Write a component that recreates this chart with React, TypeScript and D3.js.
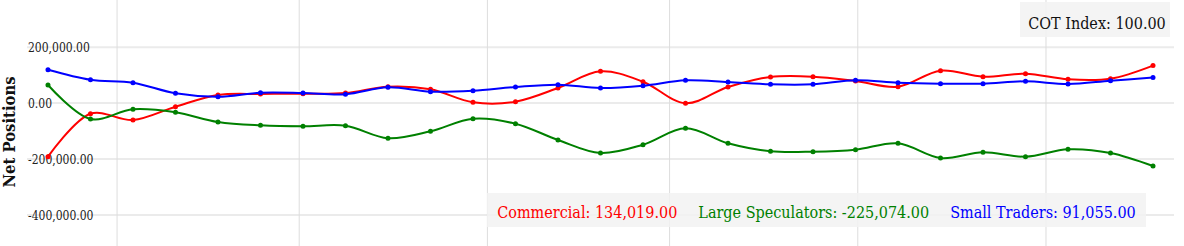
import React from "react";
import * as d3 from "d3";

const dates = [
  "2018-03-20", "2018-03-27", "2018-04-03", "2018-04-10", "2018-04-17", "2018-04-24",
  "2018-05-01", "2018-05-08", "2018-05-15", "2018-05-22", "2018-05-29", "2018-06-05",
  "2018-06-12", "2018-06-19", "2018-06-26", "2018-07-03", "2018-07-10", "2018-07-17",
  "2018-07-24", "2018-07-31", "2018-08-07", "2018-08-14", "2018-08-21", "2018-08-28",
  "2018-09-04", "2018-09-11", "2018-09-18",
];

const commercial = [
  -191600, -37900, -60400, -12900, 29000, 32500, 33600, 36100, 58600, 49300, 2900, 5000,
  54000, 113700, 76500, -700, 57600, 93300, 94400, 79000, 58600, 115800, 94400, 105100,
  85100, 87200, 134019,
];

const largeSpeculators = [
  64700, -56800, -22200, -32900, -67600, -79400, -82900, -80800, -125800, -100800, -55800,
  -73600, -131900, -178400, -148700, -90100, -143700, -172300, -173700, -166600, -143700,
  -196300, -175900, -191600, -165200, -178400, -225074,
];

const smallTraders = [
  119400, 83700, 72900, 35000, 22900, 37200, 36100, 31500, 56500, 40800, 44300, 57600,
  65800, 54000, 62200, 81500, 75400, 67200, 67200, 81500, 72900, 69400, 69400, 77900,
  68300, 80100, 91055,
];

const yTicks = [-400000, -200000, 0, 200000];
const cotIndex = 100;
const seriesNames = ["Commercial", "Large Speculators", "Small Traders"];
const seriesColors = ["#ff0000", "#008000", "#0000ff"];

const W = 1184;
const H = 246;
const FONT = "'DejaVu Serif Condensed', 'DejaVu Serif', serif";

export default function App() {
  const parse = d3.timeParse("%Y-%m-%d");
  const times = dates.map((d) => d3.timeHour.offset(parse(d) as Date, 15));
  const x = d3
    .scaleTime()
    .domain([d3.timeHour.offset(times[0], -83), d3.timeHour.offset(times[times.length - 1], 83)])
    .range([27, 1174]);
  const y = d3.scaleLinear().domain([-510800, 368500]).range([H, 0]);

  const series = [commercial, largeSpeculators, smallTraders];
  const line = d3
    .line<number>()
    .x((_, i) => x(times[i]))
    .y((v) => y(v))
    .curve(d3.curveCatmullRom.alpha(0.5));

  const months = d3.timeMonth.range(x.domain()[0], x.domain()[1]);
  const f2 = d3.format(",.2f");
  const fmt = (v: number) => f2(v).replace("\u2212", "-");
  const last = series.map((s) => s[s.length - 1]);

  return (
    <svg
      width={W}
      height={H}
      style={{ position: "absolute", left: 0, top: 0, background: "#fff" }}
      fontFamily={FONT}
    >
      {yTicks.map((t) => (
        <line key={"h" + t} x1={27} x2={1174} y1={y(t)} y2={y(t)} stroke="#ebebeb" strokeWidth={2} />
      ))}
      {months.map((m) => (
        <line key={"v" + m.getTime()} x1={x(m)} x2={x(m)} y1={0} y2={H} stroke="#dddddd" strokeWidth={1} />
      ))}
      {yTicks.map((t) => (
        <text key={"t" + t} x={28} y={y(t) + 4.5} fontSize={12} fill="#222">
          {fmt(t)}
        </text>
      ))}
      <text
        transform={`translate(15,132) rotate(-90)`}
        textAnchor="middle"
        fontSize={16.5}
        fontWeight="bold"
        fill="#111"
      >
        Net Positions
      </text>
      {series.map((s, k) => (
        <g key={"s" + k}>
          <path d={line(s) || ""} fill="none" stroke={seriesColors[k]} strokeWidth={2} />
          {s.map((v, i) => (
            <circle key={i} cx={x(times[i])} cy={y(v)} r={2.5} fill={seriesColors[k]} />
          ))}
        </g>
      ))}
      <rect x={1020} y={2} width={150} height={35} fill="#f2f2f2" fillOpacity={0.85} />
      <text x={1097} y={29} textAnchor="middle" fontSize={16} fill="#111">
        {"COT Index: " + fmt(cotIndex)}
      </text>
      <rect x={487} y={193} width={659} height={34} fill="#f2f2f2" fillOpacity={0.85} />
      <text x={816.5} y={218} textAnchor="middle" fontSize={16}>
        {series.map((s, k) => (
          <tspan key={k} fill={seriesColors[k]} dx={k === 0 ? 0 : 21}>
            {seriesNames[k] + ": " + fmt(last[k])}
          </tspan>
        ))}
      </text>
    </svg>
  );
}
